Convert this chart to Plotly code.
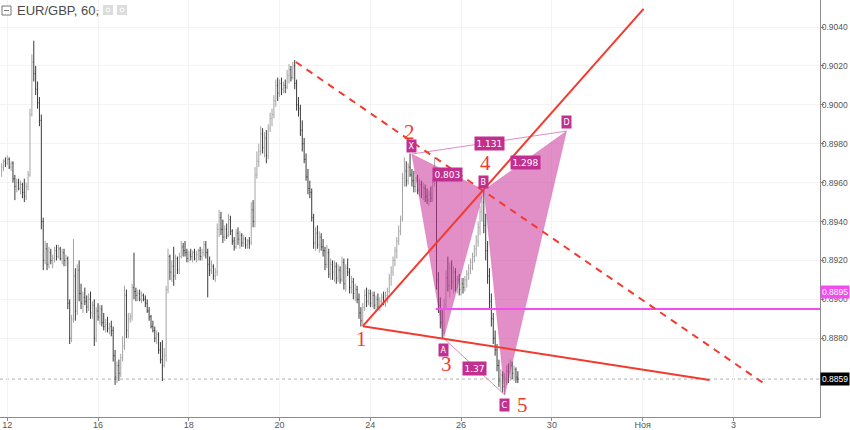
import plotly.graph_objects as go

# ---------------- data (prices in pips: value / 10000) ----------------
first_hour = -3          # trading-hour index, 0 = 12 Oct 00:00
hours = list(range(first_hour, 271))

opens = [
    8966, 8968, 8971, 8970, 8972, 8968, 8970, 8962, 8958, 8960, 8957, 8959, 8955, 8953, 8958, 8964, 8995, 9022, 9016, 9008,
    9001, 8992, 8940, 8920, 8926, 8918, 8924, 8920, 8921, 8925, 8922, 8926, 8921, 8924, 8920, 8921, 8898, 8880, 8890, 8912,
    8894, 8915, 8903, 8898, 8901, 8899, 8896, 8900, 8893, 8897, 8880, 8894, 8891, 8895, 8888, 8886, 8887, 8885, 8886, 8884,
    8871, 8860, 8866, 8862, 8870, 8876, 8902, 8884, 8890, 8891, 8906, 8904, 8902, 8903, 8900, 8902, 8900, 8898, 8894, 8891,
    8886, 8884, 8880, 8882, 8874, 8869, 8866, 8871, 8905, 8922, 8914, 8917, 8912, 8921, 8915, 8922, 8927, 8925, 8924, 8921,
    8923, 8922, 8924, 8921, 8923, 8925, 8922, 8924, 8928, 8924, 8918, 8915, 8917, 8912, 8914, 8936, 8942, 8936, 8932, 8936,
    8933, 8941, 8935, 8930, 8927, 8934, 8931, 8933, 8929, 8931, 8928, 8930, 8929, 8946, 8940, 8964, 8971, 8976, 8985, 8978,
    8983, 8974, 8988, 8993, 8995, 9002, 9010, 9006, 9011, 9008, 9010, 9009, 9015, 9018, 9014, 9020, 9011, 9000, 8998, 8987,
    8980, 8972, 8963, 8957, 8955, 8942, 8929, 8934, 8928, 8932, 8927, 8925, 8918, 8924, 8913, 8918, 8914, 8917, 8911, 8915,
    8910, 8919, 8908, 8916, 8914, 8906, 8909, 8903, 8905, 8900, 8893, 8889, 8896, 8902, 8899, 8903, 8898, 8902, 8897, 8900,
    8896, 8899, 8901, 8899, 8902, 8904, 8911, 8914, 8920, 8925, 8930, 8935, 8941, 8962, 8966, 8961, 8968, 8964, 8961, 8958,
    8961, 8956, 8959, 8954, 8957, 8953, 8951, 8954, 8952, 8960, 8962, 8910, 8897, 8888, 8884, 8897, 8911, 8907, 8916, 8909,
    8914, 8906, 8910, 8905, 8908, 8906, 8910, 8913, 8916, 8919, 8922, 8926, 8930, 8937, 8945, 8950, 8938, 8925, 8912, 8899,
    8890, 8880, 8874, 8866, 8858, 8861, 8855, 8859, 8863, 8860, 8866, 8862, 8864, 8860,
]
highs = [
    8970, 8972, 8973, 8974, 8973, 8971, 8971, 8964, 8962, 8962, 8961, 8960, 8962, 8960, 8966, 8998, 9026, 9033, 9020, 9012,
    9004, 8995, 8942, 8930, 8929, 8927, 8926, 8923, 8927, 8928, 8928, 8927, 8926, 8926, 8923, 8922, 8900, 8892, 8931, 8916,
    8918, 8920, 8908, 8904, 8906, 8902, 8903, 8904, 8899, 8900, 8896, 8898, 8897, 8897, 8893, 8890, 8891, 8888, 8889, 8886,
    8874, 8868, 8869, 8872, 8881, 8907, 8905, 8893, 8893, 8908, 8924, 8906, 8905, 8905, 8904, 8903, 8902, 8900, 8896, 8892,
    8889, 8886, 8884, 8883, 8878, 8879, 8875, 8907, 8926, 8923, 8920, 8927, 8923, 8922, 8924, 8930, 8929, 8930, 8926, 8925,
    8926, 8925, 8926, 8925, 8926, 8927, 8926, 8930, 8930, 8926, 8922, 8920, 8918, 8916, 8939, 8946, 8945, 8941, 8938, 8939,
    8944, 8943, 8936, 8932, 8936, 8937, 8935, 8934, 8933, 8932, 8931, 8932, 8950, 8951, 8968, 8976, 8980, 8989, 8988, 8986,
    8987, 8990, 8996, 8998, 9005, 9013, 9014, 9013, 9014, 9012, 9013, 9018, 9021, 9020, 9022, 9023, 9013, 9004, 9000, 8992,
    8983, 8975, 8967, 8961, 8957, 8944, 8937, 8938, 8935, 8934, 8931, 8927, 8928, 8926, 8921, 8920, 8920, 8919, 8918, 8917,
    8922, 8921, 8918, 8921, 8916, 8912, 8911, 8908, 8907, 8903, 8896, 8898, 8905, 8906, 8905, 8905, 8904, 8904, 8902, 8903,
    8901, 8903, 8904, 8904, 8906, 8913, 8917, 8922, 8927, 8932, 8938, 8943, 8965, 8973, 8971, 8970, 8975, 8967, 8966, 8963,
    8964, 8962, 8961, 8960, 8959, 8957, 8956, 8958, 8962, 8973, 8964, 8914, 8901, 8895, 8900, 8915, 8922, 8919, 8920, 8917,
    8916, 8912, 8913, 8911, 8911, 8912, 8915, 8918, 8921, 8924, 8928, 8933, 8940, 8948, 8953, 8956, 8944, 8930, 8916, 8903,
    8893, 8884, 8877, 8869, 8864, 8863, 8862, 8866, 8867, 8869, 8868, 8866, 8865, 8863,
]
lows = [
    8963, 8966, 8968, 8969, 8967, 8966, 8960, 8951, 8955, 8956, 8954, 8952, 8950, 8951, 8956, 8963, 8994, 9012, 9005, 8998,
    8989, 8936, 8915, 8918, 8915, 8916, 8918, 8916, 8919, 8920, 8921, 8920, 8918, 8917, 8917, 8895, 8877, 8878, 8888, 8889,
    8892, 8899, 8895, 8893, 8897, 8893, 8894, 8890, 8890, 8876, 8878, 8889, 8887, 8886, 8884, 8883, 8883, 8882, 8881, 8868,
    8856, 8857, 8858, 8860, 8868, 8874, 8880, 8880, 8888, 8889, 8900, 8899, 8899, 8899, 8898, 8899, 8896, 8893, 8889, 8885,
    8883, 8878, 8877, 8872, 8867, 8858, 8865, 8868, 8903, 8910, 8909, 8907, 8910, 8913, 8913, 8921, 8922, 8922, 8919, 8919,
    8920, 8919, 8920, 8919, 8920, 8920, 8920, 8922, 8921, 8901, 8912, 8913, 8910, 8909, 8912, 8932, 8933, 8929, 8930, 8931,
    8932, 8933, 8928, 8925, 8926, 8928, 8926, 8927, 8927, 8926, 8926, 8926, 8928, 8937, 8937, 8962, 8968, 8974, 8975, 8973,
    8970, 8972, 8986, 8989, 8993, 8999, 9002, 9004, 9005, 9006, 9006, 9008, 9011, 9012, 9013, 9008, 8997, 8994, 8984, 8976,
    8970, 8961, 8954, 8952, 8940, 8926, 8925, 8926, 8924, 8925, 8922, 8915, 8916, 8911, 8910, 8910, 8909, 8908, 8909, 8908,
    8909, 8905, 8904, 8912, 8903, 8903, 8900, 8899, 8898, 8890, 8886, 8887, 8894, 8896, 8897, 8896, 8896, 8895, 8894, 8895,
    8894, 8896, 8897, 8896, 8898, 8903, 8907, 8912, 8917, 8921, 8928, 8933, 8940, 8958, 8958, 8959, 8963, 8958, 8955, 8955,
    8954, 8953, 8952, 8951, 8950, 8949, 8948, 8950, 8950, 8958, 8905, 8893, 8885, 8880, 8882, 8895, 8904, 8901, 8905, 8903,
    8904, 8903, 8902, 8902, 8903, 8904, 8906, 8910, 8913, 8915, 8919, 8922, 8927, 8933, 8940, 8934, 8920, 8908, 8895, 8886,
    8877, 8871, 8863, 8855, 8853, 8852, 8851, 8856, 8857, 8858, 8859, 8858, 8857, 8857,
]
closes = [
    8968, 8971, 8970, 8972, 8968, 8970, 8962, 8958, 8960, 8957, 8959, 8955, 8953, 8958, 8964, 8995, 9022, 9016, 9008, 9001,
    8992, 8940, 8920, 8926, 8918, 8924, 8920, 8921, 8925, 8922, 8926, 8921, 8924, 8920, 8921, 8898, 8880, 8890, 8912, 8894,
    8915, 8903, 8898, 8901, 8899, 8896, 8900, 8893, 8897, 8880, 8894, 8891, 8895, 8888, 8886, 8887, 8885, 8886, 8884, 8871,
    8860, 8866, 8862, 8870, 8876, 8902, 8884, 8890, 8891, 8906, 8904, 8902, 8903, 8900, 8902, 8900, 8898, 8894, 8891, 8886,
    8884, 8880, 8882, 8874, 8869, 8866, 8871, 8905, 8922, 8914, 8917, 8912, 8921, 8915, 8922, 8927, 8925, 8924, 8921, 8923,
    8922, 8924, 8921, 8923, 8925, 8922, 8924, 8928, 8924, 8918, 8915, 8917, 8912, 8914, 8936, 8942, 8936, 8932, 8936, 8933,
    8941, 8935, 8930, 8927, 8934, 8931, 8933, 8929, 8931, 8928, 8930, 8929, 8946, 8940, 8964, 8971, 8976, 8985, 8978, 8983,
    8974, 8988, 8993, 8995, 9002, 9010, 9006, 9011, 9008, 9010, 9009, 9015, 9018, 9014, 9020, 9011, 9000, 8998, 8987, 8980,
    8972, 8963, 8957, 8955, 8942, 8929, 8934, 8928, 8932, 8927, 8925, 8918, 8924, 8913, 8918, 8914, 8917, 8911, 8915, 8910,
    8919, 8908, 8916, 8914, 8906, 8909, 8903, 8905, 8900, 8893, 8889, 8896, 8902, 8899, 8903, 8898, 8902, 8897, 8900, 8896,
    8899, 8901, 8899, 8902, 8904, 8911, 8914, 8920, 8925, 8930, 8935, 8941, 8962, 8966, 8961, 8968, 8964, 8961, 8958, 8961,
    8956, 8959, 8954, 8957, 8953, 8951, 8954, 8952, 8960, 8962, 8910, 8897, 8888, 8884, 8897, 8911, 8907, 8916, 8909, 8914,
    8906, 8910, 8905, 8908, 8906, 8910, 8913, 8916, 8919, 8922, 8926, 8930, 8937, 8945, 8950, 8938, 8925, 8912, 8899, 8890,
    8880, 8874, 8866, 8858, 8861, 8855, 8859, 8863, 8860, 8866, 8862, 8864, 8860, 8859,
]
PIP = 10000.0

# x-axis ticks (trading-day index from 12 Oct) and labels
hours_per_day = 24
tick_days = [0, 2, 4, 6, 8, 10, 12, 14, 16]
tick_labels = ["12", "16", "18", "20", "24", "26", "30", "Ноя", "3"]
price_ticks = [0.8880, 0.8900, 0.8920, 0.8940, 0.8960, 0.8980, 0.9000, 0.9020, 0.9040]

# harmonic pattern points
pattern_names = ["X", "A", "B", "C", "D"]
pattern_hours = [213.9, 230.8, 252.1, 263.1, 295.8]
pattern_prices = [0.89747, 0.88800, 0.89562, 0.88508, 0.89865]
ratio_texts = {"XB": "0.803", "AC": "1.37", "BD": "1.298", "XD": "1.131"}

# wave counts
wave_names = ["1", "2", "3", "4", "5"]
wave_hours = [188.0, 213.9, 230.8, 252.1, 263.1]
wave_prices = [0.88862, 0.89747, 0.88800, 0.89562, 0.88508]

# trend lines (start hour, start price, end hour, end price)
dashed_line = (152.6, 0.90220, 400.5, 0.88565)
up_line = (188.0, 0.88862, 336.5, 0.90493)
down_line = (188.0, 0.88862, 371.4, 0.88585)

level_price = 0.8895
level_start_hour = 226.6
last_price = 0.8859

x_range = [-3.86, 429.8]
y_range = [0.88395, 0.90539]

# ---------------- figure ----------------
RED = "#f23a2e"
MAG = "#c2308f"
PINK_FILL = "rgba(204,51,153,0.55)"
AXFONT = "Liberation Sans, Arial"

fig = go.Figure()
fig.add_trace(go.Ohlc(
    x=hours,
    open=[v / PIP for v in opens], high=[v / PIP for v in highs],
    low=[v / PIP for v in lows], close=[v / PIP for v in closes],
    increasing=dict(line=dict(color="#a4a4a4", width=1)),
    decreasing=dict(line=dict(color="#3a3a3a", width=1)),
    tickwidth=0.35, hoverinfo="skip", showlegend=False,
))

P = dict(zip(pattern_names, zip(pattern_hours, pattern_prices)))

def tri(a, b, c):
    xs = [P[a][0], P[b][0], P[c][0], P[a][0]]
    ys = [P[a][1], P[b][1], P[c][1], P[a][1]]
    fig.add_trace(go.Scatter(x=xs, y=ys, mode="lines", fill="toself",
                             fillcolor=PINK_FILL, line=dict(width=0.5, color="rgba(204,51,153,0.4)"),
                             hoverinfo="skip", showlegend=False))

tri("X", "A", "B")
tri("B", "C", "D")
for a, b in [("X", "D"), ("A", "C")]:
    fig.add_trace(go.Scatter(x=[P[a][0], P[b][0]], y=[P[a][1], P[b][1]], mode="lines",
                             line=dict(width=1, color="rgba(215,110,185,0.8)"),
                             hoverinfo="skip", showlegend=False))

shapes = []
# dotted last-price line
shapes.append(dict(type="line", xref="paper", x0=0, x1=1, yref="y", y0=last_price, y1=last_price,
                   line=dict(color="#b0b0b0", width=1, dash="dot"), layer="below"))
# magenta level line
shapes.append(dict(type="line", xref="x", x0=level_start_hour, x1=x_range[1], yref="y",
                   y0=level_price, y1=level_price, line=dict(color="#f04ef0", width=2)))
# trend lines
for (h0, p0, h1, p1), dash in [(dashed_line, "7px,6px"), (up_line, "solid"), (down_line, "solid")]:
    shapes.append(dict(type="line", xref="x", yref="y", x0=h0, y0=p0, x1=h1, y1=p1,
                       line=dict(color=RED, width=2, dash=dash)))

# header icons (pixel -> paper helpers)
PW, PH = 820.0, 417.0
def px(x):
    return x / PW
def py(y):
    return 1 - y / PH

shapes.append(dict(type="rect", xref="paper", yref="paper", x0=px(2), x1=px(11), y0=py(15), y1=py(6),
                   line=dict(color="#777", width=1), fillcolor="white"))
shapes.append(dict(type="line", xref="paper", yref="paper", x0=px(4), x1=px(9), y0=py(10.5), y1=py(10.5),
                   line=dict(color="#777", width=1)))
for x0 in (103, 117):
    shapes.append(dict(type="rect", xref="paper", yref="paper", x0=px(x0), x1=px(x0 + 10), y0=py(15), y1=py(5),
                       line=dict(width=0), fillcolor="#dcdcdc"))
    shapes.append(dict(type="circle", xref="paper", yref="paper", x0=px(x0 + 3), x1=px(x0 + 7), y0=py(12), y1=py(8),
                       line=dict(width=1, color="white")))

ann = []
ann.append(dict(xref="paper", yref="paper", x=px(15), y=py(10.5), xanchor="left", yanchor="middle",
                text="EUR/GBP, 60,", showarrow=False,
                font=dict(family="Liberation Sans, Arial", size=13, color="#4a4a4a")))
ann.append(dict(xref="paper", yref="paper", x=px(94), y=py(10), xanchor="left", yanchor="middle",
                text="-", showarrow=False, font=dict(family="Liberation Sans", size=10, color="#bbbbbb")))

# pattern point labels
letter_shift = {"X": 8, "A": -12, "B": 8, "C": -10, "D": 9}
for n in pattern_names:
    ann.append(dict(x=P[n][0], y=P[n][1], xref="x", yref="y", text=n, showarrow=False,
                    yshift=letter_shift[n], font=dict(family="DejaVu Sans", size=8, color="white"),
                    bgcolor=MAG, borderpad=1.5))
# ratio labels at segment midpoints
for key, txt in ratio_texts.items():
    a, b = key[0], key[1]
    ann.append(dict(x=(P[a][0] + P[b][0]) / 2, y=(P[a][1] + P[b][1]) / 2, xref="x", yref="y",
                    text=txt, showarrow=False, yshift=-2 if key in ("XB", "AC", "BD") else -1,
                    font=dict(family="DejaVu Sans", size=9, color="white"), bgcolor=MAG, borderpad=1.5))
# wave numbers
wave_off = {"1": (-1, -13), "2": (-2, 22), "3": (3, -26), "4": (2, 27), "5": (18, -10)}
for n, h, p in zip(wave_names, wave_hours, wave_prices):
    dx, dy = wave_off[n]
    ann.append(dict(x=h, y=p, xref="x", yref="y", text=n, showarrow=False, xshift=dx, yshift=dy,
                    font=dict(family="Liberation Serif, Times New Roman", size=21, color=RED)))
# price labels on right axis
ann.append(dict(xref="paper", x=1.0, xanchor="left", yref="y", y=level_price, yshift=17,
                text="0.8895", showarrow=False, bgcolor="#f04ef0", borderpad=1,
                font=dict(family=AXFONT, size=8.5, color="white")))
ann.append(dict(xref="paper", x=1.0, xanchor="left", yref="y", y=last_price,
                text="0.8859", showarrow=False, bgcolor="#000000", borderpad=1,
                font=dict(family=AXFONT, size=8.5, color="white")))

fig.update_layout(
    width=850, height=430,
    margin=dict(l=0, r=30, t=0, b=13, autoexpand=False),
    paper_bgcolor="white", plot_bgcolor="white",
    showlegend=False, hovermode=False,
    shapes=shapes, annotations=ann,
    xaxis=dict(range=x_range, rangeslider=dict(visible=False), automargin=False,
               tickvals=[d * hours_per_day for d in tick_days], ticktext=tick_labels,
               showgrid=True, gridcolor="#f3f3f3", zeroline=False,
               showline=True, linecolor="#8c8c8c", linewidth=1,
               ticks="outside", ticklen=3, tickcolor="#8c8c8c", ticklabelstandoff=-4,
               tickfont=dict(family=AXFONT, size=9, color="#555")),
    yaxis=dict(range=y_range, side="right", automargin=False,
               tickvals=price_ticks, ticktext=[f"{v:.4f}" for v in price_ticks],
               showgrid=True, gridcolor="#f3f3f3", zeroline=False,
               showline=True, linecolor="#8c8c8c", linewidth=1,
               ticks="outside", ticklen=3, tickcolor="#8c8c8c", ticklabelstandoff=-4,
               tickfont=dict(family=AXFONT, size=8.5, color="#555")),
)

fig.write_html("out.html", config={"displayModeBar": False},
               post_script="document.body.style.margin='0px';document.body.style.overflow='hidden';")
